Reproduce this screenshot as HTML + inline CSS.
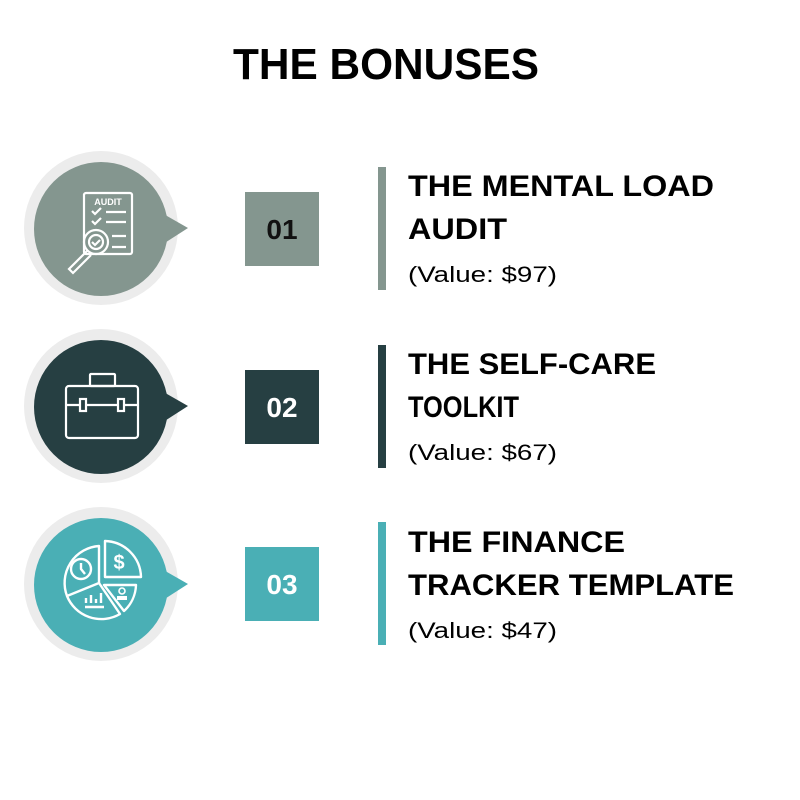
<!DOCTYPE html>
<html><head><meta charset="utf-8"><style>
html,body{margin:0;padding:0;background:#fff;}
svg{display:block;}
text{font-family:"Liberation Sans",sans-serif;}
</style></head><body>
<svg width="800" height="800" viewBox="0 0 800 800" xmlns="http://www.w3.org/2000/svg">
<rect width="800" height="800" fill="#fff"/>
<text x="386" y="79" text-anchor="middle" font-size="44" font-weight="bold" fill="#000" textLength="306" lengthAdjust="spacingAndGlyphs">THE BONUSES</text>

<!-- Row 1 -->
<g>
<circle cx="101" cy="228" r="77" fill="#ececec"/>
<circle cx="101" cy="229" r="67" fill="#84968f"/>
<polygon points="160,212 188,228 160,246" fill="#84968f"/>
<g fill="none" stroke="#fff" stroke-width="2.2">
<rect x="84" y="193" width="48" height="61" rx="2"/>
<path d="M92 211 l3 3 l6 -6 M92 221 l3 3 l6 -6"/>
<path d="M106 212 h20 M106 222 h20 M112 236 h14 M112 247 h14"/>
<circle cx="96" cy="242" r="12"/>
<circle cx="96" cy="242" r="7"/>
<path d="M92 242 l3 3 l5 -5"/>
<path d="M87 251 l-18 18 l4 4 l18 -18"/>
</g>
<text x="108" y="205" text-anchor="middle" font-size="9" font-weight="bold" fill="#fff">AUDIT</text>
<rect x="245" y="192" width="74" height="74" fill="#84968f"/>
<text x="282" y="239" text-anchor="middle" font-size="28" font-weight="bold" fill="#111">01</text>
<rect x="378" y="167" width="8" height="123" fill="#84968f"/>
<text x="408" y="196" font-size="30" font-weight="bold" fill="#000" textLength="306" lengthAdjust="spacingAndGlyphs">THE MENTAL LOAD</text>
<text x="408" y="239" font-size="30" font-weight="bold" fill="#000" textLength="99" lengthAdjust="spacingAndGlyphs">AUDIT</text>
<text x="408" y="282" font-size="22" fill="#000" textLength="149" lengthAdjust="spacingAndGlyphs">(Value: $97)</text>
</g>

<!-- Row 2 -->
<g>
<circle cx="101" cy="406" r="77" fill="#ececec"/>
<circle cx="101" cy="407" r="67" fill="#263f42"/>
<polygon points="160,390 188,406 160,424" fill="#263f42"/>
<g fill="none" stroke="#fff" stroke-width="2.2">
<rect x="66" y="386" width="72" height="52" rx="3"/>
<rect x="90" y="374" width="25" height="12" rx="1"/>
<path d="M66 405 h14 M86 405 h32 M124 405 h14"/>
<rect x="80" y="399" width="6" height="12"/>
<rect x="118" y="399" width="6" height="12"/>
</g>
<rect x="245" y="370" width="74" height="74" fill="#263f42"/>
<text x="282" y="417" text-anchor="middle" font-size="28" font-weight="bold" fill="#fff">02</text>
<rect x="378" y="345" width="8" height="123" fill="#263f42"/>
<text x="408" y="374" font-size="30" font-weight="bold" fill="#000" textLength="248" lengthAdjust="spacingAndGlyphs">THE SELF-CARE</text>
<text x="408" y="417" font-size="30" font-weight="bold" fill="#000" textLength="111" lengthAdjust="spacingAndGlyphs">TOOLKIT</text>
<text x="408" y="460" font-size="22" fill="#000" textLength="149" lengthAdjust="spacingAndGlyphs">(Value: $67)</text>
</g>

<!-- Row 3 -->
<g>
<circle cx="101" cy="584" r="77" fill="#ececec"/>
<circle cx="101" cy="585" r="67" fill="#4aafb5"/>
<polygon points="160,568 188,584 160,602" fill="#4aafb5"/>
<g fill="none" stroke="#fff" stroke-width="2.4" stroke-linejoin="round">
<!-- left slice (clock) -->
<path d="M99 546 A37 37 0 0 0 67 596 L99 583 Z"/>
<!-- bottom slice (bars) -->
<path d="M67 596 A37 37 0 0 0 120 614 L99 583"/>
<!-- right middle slice (person) -->
<path d="M104 585 L136 585 A37 37 0 0 1 124 611 Z"/>
<!-- top right slice ($) -->
<path d="M105 541 A37 37 0 0 1 141 577 L105 577 Z"/>
<circle cx="81" cy="569" r="10"/>
<path d="M81 563 v6 l4 5"/>
<path d="M86 603 v-5 M91 603 v-8 M96 603 v-4 M101 603 v-10 M85 607 h19"/>
</g>
<text x="119" y="569" text-anchor="middle" font-size="20" font-weight="bold" fill="#fff">$</text>
<circle cx="122" cy="591" r="3" fill="none" stroke="#fff" stroke-width="1.6"/>
<rect x="117" y="596" width="10" height="4" fill="#fff"/>
<rect x="245" y="547" width="74" height="74" fill="#4aafb5"/>
<text x="282" y="594" text-anchor="middle" font-size="28" font-weight="bold" fill="#fff">03</text>
<rect x="378" y="522" width="8" height="123" fill="#4aafb5"/>
<text x="408" y="552" font-size="30" font-weight="bold" fill="#000" textLength="217" lengthAdjust="spacingAndGlyphs">THE FINANCE</text>
<text x="408" y="595" font-size="30" font-weight="bold" fill="#000" textLength="326" lengthAdjust="spacingAndGlyphs">TRACKER TEMPLATE</text>
<text x="408" y="638" font-size="22" fill="#000" textLength="149" lengthAdjust="spacingAndGlyphs">(Value: $47)</text>
</g>
</svg>
</body></html>
